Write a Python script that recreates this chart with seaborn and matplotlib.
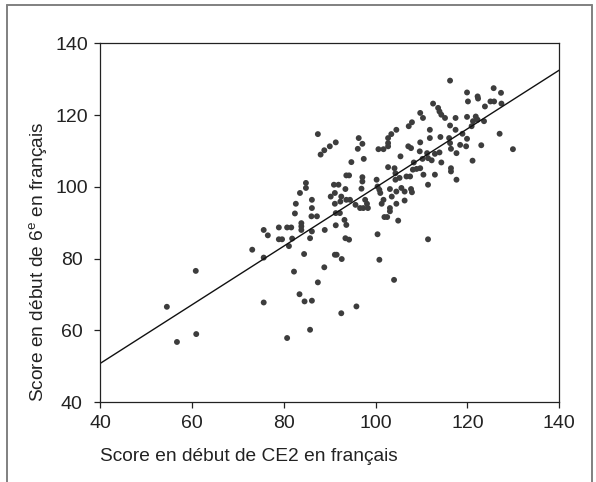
import pandas as pd
import matplotlib.pyplot as plt
import seaborn as sns
from matplotlib.lines import Line2D

# scores (CE2 score, 6e score)
score_ce2 = [
    54.5, 56.7, 60.9, 60.8, 73.1, 75.6, 75.6, 76.5, 75.6, 78.9,
    78.9, 79.6, 80.7, 81.6, 81.1, 81.8, 82.2, 80.7, 82.4, 82.6,
    83.4, 83.5, 83.8, 83.8, 83.8, 84.4, 84.5, 84.8, 84.8, 85.7,
    85.7, 86.1, 86.1, 86.1, 86.0, 86.1, 87.2, 87.4, 87.4, 88.0,
    88.8, 88.9, 88.8, 90.0, 90.2, 90.9, 91.9, 91.1, 91.1, 91.3,
    91.3, 91.3, 91.1, 91.5, 92.2, 92.3, 92.6, 92.5, 92.5, 93.2,
    93.4, 93.6, 93.6, 93.4, 94.2, 93.6, 94.2, 94.7, 94.4, 95.6,
    95.8, 96.1, 96.3, 96.6, 96.9, 97.1, 97.1, 97.1, 97.3, 97.4,
    97.7, 98.1, 98.3, 100.2, 100.4, 100.4, 100.6, 100.8, 100.8, 101.0,
    101.3, 101.7, 101.7, 101.9, 102.5, 102.7, 102.7, 102.7, 102.7, 103.1,
    103.1, 103.1, 103.5, 103.4, 104.0, 104.1, 104.3, 104.3, 104.5, 104.5,
    104.5, 104.9, 105.2, 105.4, 105.6, 106.3, 106.3, 106.7, 107.1, 107.2,
    107.5, 107.7, 107.7, 107.9, 107.9, 108.1, 108.3, 108.9, 109.7, 109.6,
    109.7, 109.7, 110.2, 110.3, 110.4, 111.2, 111.4, 111.4, 111.4, 111.8,
    111.8, 112.2, 112.5, 112.9, 112.9, 113.6, 113.9, 113.9, 114.1, 114.3,
    114.3, 115.1, 116.0, 116.2, 116.4, 116.2, 116.2, 116.4, 116.4, 117.4,
    117.4, 117.6, 117.6, 118.4, 118.9, 119.7, 119.9, 119.9, 120.1, 119.9,
    120.9, 121.2, 121.1, 122.2, 122.3, 121.8, 122.2, 123.0, 123.6, 123.8,
    125.0, 125.8, 125.7, 127.0, 127.3, 127.4, 129.9,
]
score_6e = [
    66.6, 56.8, 59.0, 76.6, 82.5, 88.0, 80.3, 86.5, 67.8, 88.7,
    85.4, 85.4, 88.7, 88.7, 83.5, 85.6, 76.4, 57.9, 92.6, 95.3,
    70.1, 98.3, 89.9, 89.0, 88.0, 81.3, 68.1, 101.1, 99.7, 60.2,
    85.7, 87.6, 96.4, 94.1, 91.8, 68.3, 91.8, 73.4, 114.7, 109.0,
    110.2, 88.0, 77.6, 111.3, 97.3, 100.6, 100.6, 98.3, 95.3, 112.4,
    92.7, 89.3, 81.1, 81.1, 92.7, 95.9, 79.9, 64.8, 97.3, 90.8,
    99.4, 96.4, 89.4, 85.7, 85.3, 103.2, 103.2, 106.9, 96.4, 95.0,
    66.7, 110.6, 113.6, 94.1, 99.5, 101.5, 102.7, 112.0, 94.1, 107.8,
    96.4, 95.3, 94.1, 102.0, 86.8, 100.1, 110.5, 79.7, 99.2, 98.3,
    95.3, 110.5, 96.4, 91.6, 91.6, 113.6, 112.2, 111.3, 105.5, 99.4,
    93.2, 94.1, 97.3, 114.7, 74.1, 105.2, 103.8, 102.0, 115.9, 98.7,
    95.3, 90.6, 102.5, 108.5, 99.7, 98.7, 96.2, 102.9, 111.3, 116.9,
    102.9, 110.8, 99.4, 98.5, 118.0, 104.8, 106.8, 105.0, 105.2, 109.9,
    112.4, 120.6, 107.8, 119.2, 103.4, 109.4, 108.0, 100.6, 85.4, 115.9,
    113.6, 107.4, 123.2, 103.4, 109.2, 122.0, 109.6, 121.0, 113.9, 106.8,
    120.1, 119.2, 113.6, 112.2, 110.6, 117.1, 129.6, 105.2, 104.3, 115.9,
    119.2, 109.4, 102.0, 111.7, 114.8, 111.3, 119.5, 126.3, 123.8, 113.4,
    116.9, 118.3, 107.3, 125.2, 124.6, 119.6, 118.7, 111.6, 118.3, 122.4,
    123.8, 123.8, 127.5, 114.8, 126.2, 123.2, 110.5,
]

ticks = [40, 60, 80, 100, 120, 140]

df = pd.DataFrame({'ce2': score_ce2, 'sixieme': score_6e})

sns.set_style('ticks')
plt.rcParams['font.family'] = ['Liberation Sans', 'DejaVu Sans']
plt.rcParams['mathtext.fontset'] = 'custom'
plt.rcParams['mathtext.rm'] = 'Liberation Sans'

fig = plt.figure(figsize=(5.96, 4.82), dpi=100)
ax = fig.add_axes([0.1683, 0.1654, 0.7701, 0.7448])

ax.set_xlim(40, 140)
ax.set_ylim(40, 140)

sns.scatterplot(data=df, x='ce2', y='sixieme', ax=ax, color='#3d3d3d',
                s=18, edgecolor='none', linewidth=0)
sns.regplot(data=df, x='ce2', y='sixieme', ax=ax, scatter=False, ci=None,
            truncate=False, line_kws={'color': '#111111', 'linewidth': 1.0})

ax.set_xlim(40, 140)
ax.set_ylim(40, 140)
ax.set_xticks(ticks)
ax.set_yticks(ticks)

for side in ['top', 'right', 'bottom', 'left']:
    ax.spines[side].set_visible(True)
    ax.spines[side].set_color('#222222')
    ax.spines[side].set_linewidth(0.9)

ax.tick_params(direction='out', length=4, width=0.9, color='#222222',
               labelsize=14, labelcolor='#222222', pad=5)
# y tick labels are centred in the reference
ax.tick_params(axis='y', pad=16.5)
for lbl in ax.get_yticklabels():
    lbl.set_horizontalalignment('center')

ax.set_xlabel('Score en début de CE2 en français', fontsize=13.8,
              color='#222222', loc='left', labelpad=12)
ax.set_ylabel('Score en début de 6$^{\\mathrm{e}}$ en français', fontsize=13.8,
              color='#222222', loc='bottom', labelpad=4)

# grey frame around the figure
frame_col = '#808080'
fig.add_artist(Line2D([0.011, 0.011], [0.0, 0.99], color=frame_col, linewidth=1.4))
fig.add_artist(Line2D([0.011, 0.993], [0.99, 0.99], color=frame_col, linewidth=1.4))
fig.add_artist(Line2D([0.993, 0.993], [0.0, 0.99], color=frame_col, linewidth=1.4))

plt.savefig('out.png', dpi=100)
